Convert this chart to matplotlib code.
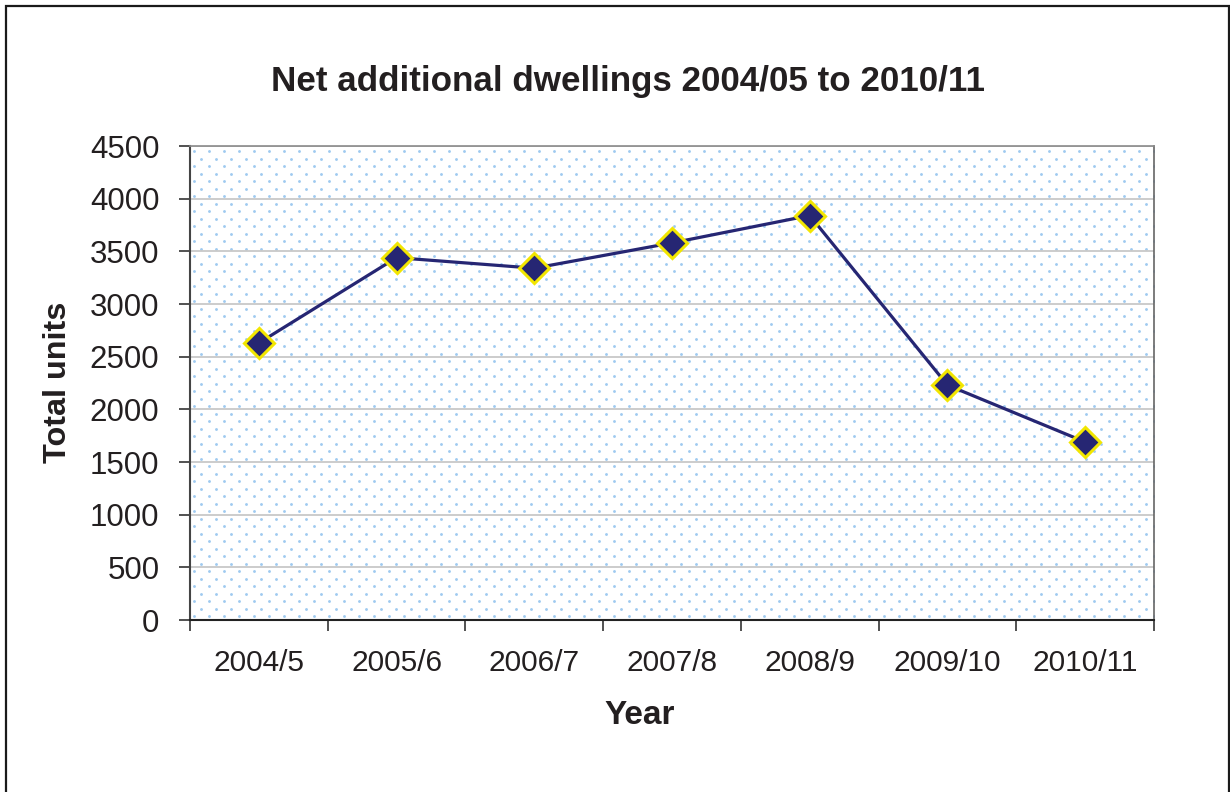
import matplotlib
matplotlib.use("Agg")
import matplotlib.pyplot as plt
from matplotlib.patches import Rectangle
import numpy as np

# data
years = ['2004/5', '2005/6', '2006/7', '2007/8', '2008/9', '2009/10', '2010/11']
units = [2630, 3440, 3340, 3580, 3840, 2230, 1690]
y_ticks = [0, 500, 1000, 1500, 2000, 2500, 3000, 3500, 4000, 4500]

plt.rcParams['font.family'] = ['Liberation Sans', 'DejaVu Sans']

fig = plt.figure(figsize=(12.3, 7.92), dpi=100)
ax = fig.add_axes([190/1230, 1-620/792, (1154-190)/1230, (620-146)/792])

# dotted plot-area texture: staggered dots, ~15px apart in a row, rows ~7.5px apart
w_px, h_px = 1154 - 190, 620 - 146
dx, dy = 15.0 / w_px, 7.5 / h_px
dots = []
for r, yy in enumerate(np.arange(dy / 2, 1, dy)):
    for xx in np.arange(dx / 4 + (dx / 2) * (r % 2), 1, dx):
        dots.append((xx, yy))
dots = np.array(dots)
ax.scatter(dots[:, 0], dots[:, 1], s=4.2, color='#9fcaf0', linewidths=0,
           transform=ax.transAxes, zorder=0)

x = np.arange(len(years))
ax.plot(x, units, color='#262673', linewidth=2.3, marker='D', markersize=15,
        markerfacecolor='#262673', markeredgecolor='#f2e600', markeredgewidth=2.2,
        zorder=3)

ax.set_xlim(-0.5, len(years) - 0.5)
ax.set_ylim(0, 4500)
ax.set_yticks(y_ticks)
ax.set_yticklabels([str(v) for v in y_ticks], fontsize=22.5, color='#231f20')

# ticks on category boundaries, labels in the middle
ax.set_xticks(np.arange(len(years) + 1) - 0.5)
ax.set_xticklabels([])
ax.set_xticks(x, minor=True)
ax.set_xticklabels(years, minor=True, fontsize=21.5, color='#231f20')
ax.tick_params(axis='x', which='minor', length=0, pad=21)
ax.tick_params(axis='x', which='major', direction='out', length=8, width=1.2, color='#333333')
ax.tick_params(axis='y', direction='out', length=8, width=1.2, color='#333333', pad=14)

ax.grid(axis='y', color='#c8c8c8', linewidth=1.3, zorder=1)
ax.set_axisbelow(True)

# spines
ax.spines['left'].set_color('#444444')
ax.spines['bottom'].set_color('#222222')
ax.spines['top'].set_color('#8a8a8a')
ax.spines['right'].set_color('#666666')
for s in ['left', 'bottom']:
    ax.spines[s].set_linewidth(1.5)
for s in ['top', 'right']:
    ax.spines[s].set_linewidth(1.2)

# titles and axis labels
fig.text(628/1230, 1-82/792, 'Net additional dwellings 2004/05 to 2010/11',
         fontsize=25.2, fontweight='bold', ha='center', va='center', color='#231f20')
fig.text(640/1230, 1-716/792, 'Year', fontsize=24, fontweight='bold',
         ha='center', va='center', color='#231f20')
fig.text(58/1230, 1-382/792, 'Total units', fontsize=23.3, fontweight='bold',
         ha='center', va='center', rotation=90, color='#231f20')

# outer chart border (runs off the bottom edge)
frame = Rectangle((6/1230, -0.05), (1229-6)/1230, 1.05 - 6/792, transform=fig.transFigure,
                  fill=False, edgecolor='#1a1a1a', linewidth=1.6, clip_on=False)
fig.patches.append(frame)

fig.savefig('out.png', dpi=100)
